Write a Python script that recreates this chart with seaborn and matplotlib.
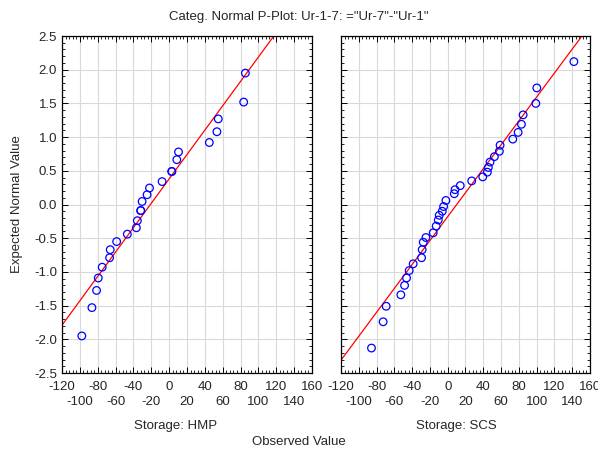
import numpy as np
import pandas as pd
import matplotlib
matplotlib.use('Agg')
import matplotlib.pyplot as plt
from matplotlib.ticker import MultipleLocator, FixedLocator
import seaborn as sns

# values
hmp_observed = [-97.8, -86.5, -81.3, -79.4, -75.0, -66.7, -66.0, -58.8, -46.8, -36.7,
                -35.6, -31.8, -31.8, -30.3, -24.7, -22.0, -7.9, 3.0, 3.0, 8.6,
                10.5, 45.0, 53.5, 55.0, 83.5, 85.4]
hmp_expected = [-1.95, -1.53, -1.275, -1.09, -0.93, -0.79, -0.67, -0.55, -0.44, -0.345,
                -0.24, -0.09, -0.09, 0.045, 0.145, 0.245, 0.34, 0.49, 0.49, 0.665,
                0.78, 0.92, 1.08, 1.27, 1.52, 1.95]

scs_observed = [-85.7, -72.6, -69.2, -52.7, -48.5, -46.3, -43.3, -38.8, -29.4, -28.7,
                -27.5, -24.5, -16.3, -12.9, -10.6, -9.5, -6.1, -4.6, -2.0, 7.4,
                8.2, 14.1, 27.0, 39.4, 44.6, 45.7, 47.6, 52.5, 58.1, 58.9,
                73.2, 79.2, 82.9, 84.8, 99.1, 100.2, 141.9]
scs_expected = [-2.13, -1.74, -1.51, -1.34, -1.20, -1.09, -0.98, -0.88, -0.79, -0.67,
                -0.56, -0.49, -0.42, -0.32, -0.23, -0.16, -0.10, -0.03, 0.06, 0.16,
                0.22, 0.28, 0.35, 0.41, 0.48, 0.55, 0.63, 0.71, 0.79, 0.88,
                0.97, 1.07, 1.19, 1.33, 1.50, 1.73, 2.12]

# reference lines (end points)
hmp_line_x = [-120, 120]
hmp_line_y = [-1.79, 2.55]
scs_line_x = [-120, 160]
scs_line_y = [-2.31, 2.66]

groups = ['HMP', 'SCS']

sns.set_style('white')
plt.rcParams['font.family'] = ['Liberation Sans', 'DejaVu Sans']
plt.rcParams['axes.unicode_minus'] = False

fig = plt.figure(figsize=(5.98, 4.53), dpi=100)
ax1 = fig.add_axes([0.1037, 0.1766, 0.4180, 0.7439])
ax2 = fig.add_axes([0.5702, 0.1766, 0.4164, 0.7439])

panels = [
    (ax1, hmp_observed, hmp_expected, hmp_line_x, hmp_line_y),
    (ax2, scs_observed, scs_expected, scs_line_x, scs_line_y),
]

x_major = np.arange(-120, 161, 20)
x_labels = [f'{v}' if i % 2 == 0 else f'\n{v}' for i, v in enumerate(x_major)]

for ax, obs, exp, lx, ly in panels:
    ax.plot(lx, ly, color='red', lw=0.9, zorder=2)
    df = pd.DataFrame({'Observed': obs, 'Expected': exp})
    sns.scatterplot(data=df, x='Observed', y='Expected', ax=ax, marker='o', s=30,
                    facecolor='none', edgecolor='blue', linewidth=0.9, zorder=3)
    ax.set_xlim(-120, 160)
    ax.set_ylim(-2.5, 2.5)
    ax.xaxis.set_major_locator(FixedLocator(x_major))
    ax.xaxis.set_minor_locator(MultipleLocator(4))
    ax.yaxis.set_major_locator(MultipleLocator(0.5))
    ax.yaxis.set_minor_locator(MultipleLocator(0.1))
    ax.set_xticklabels(x_labels)
    ax.grid(True, which='major', color='#d9d9d9', lw=0.8)
    ax.set_axisbelow(True)
    ax.tick_params(which='both', direction='in', top=True, right=True,
                   bottom=True, left=True, color='black', labelsize=9.5)
    ax.tick_params(which='major', length=4, width=0.7)
    ax.tick_params(axis='x', which='major', pad=6)
    ax.tick_params(which='minor', length=2, width=0.6)
    for lbl in ax.get_xticklabels():
        lbl.set_linespacing(1.3)
    for sp in ax.spines.values():
        sp.set_color('black')
        sp.set_linewidth(0.9)
    ax.set_xlabel('')
    ax.set_ylabel('')

ax1.yaxis.set_major_formatter(matplotlib.ticker.FormatStrFormatter('%.1f'))
ax2.set_yticklabels([])

fig.text(0.5, 1 - 17 / 453, 'Categ. Normal P-Plot: Ur-1-7: ="Ur-7"-"Ur-1"',
         ha='center', va='center', fontsize=9.5)
fig.text(17 / 598, 0.55, 'Expected Normal Value', rotation=90,
         ha='center', va='center', fontsize=9.5)
fig.text(176 / 598, 1 - 426 / 453, f'Storage: {groups[0]}', ha='center', va='center', fontsize=9.5)
fig.text(456 / 598, 1 - 426 / 453, f'Storage: {groups[1]}', ha='center', va='center', fontsize=9.5)
fig.text(0.5, 1 - 442 / 453, 'Observed Value', ha='center', va='center', fontsize=9.5)

fig.savefig('out.png', dpi=100)
